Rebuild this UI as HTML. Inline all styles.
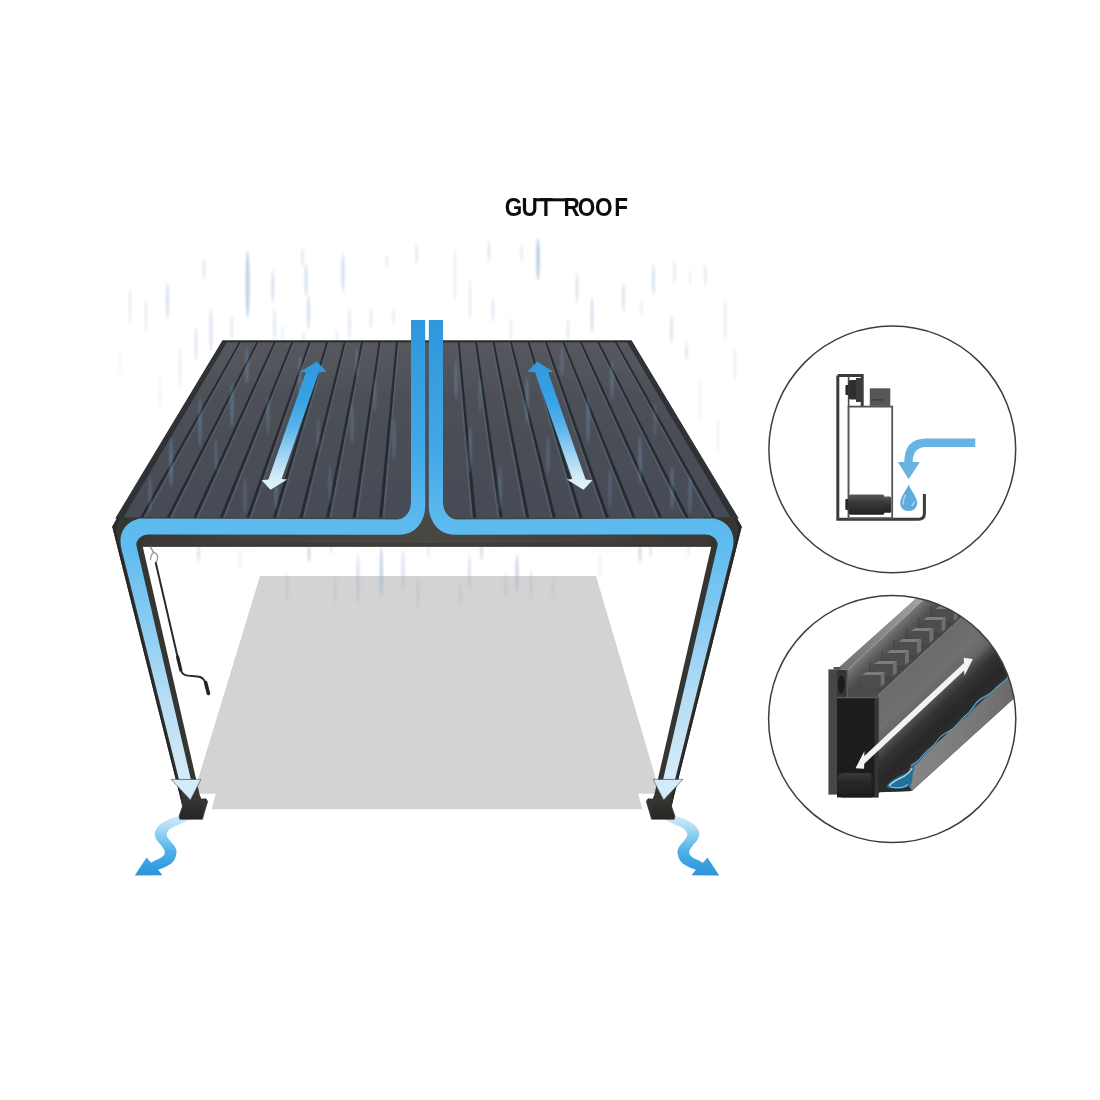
<!DOCTYPE html>
<html lang="en">
<head>
<meta charset="utf-8">
<title>GUTROOF</title>
<style>
html,body{margin:0;padding:0;background:#fff;}
body{width:1100px;height:1100px;overflow:hidden;font-family:"Liberation Sans",Arial,sans-serif;}
svg{display:block;}
</style>
</head>
<body>
<svg width="1100" height="1100" viewBox="0 0 1100 1100">
<defs>
<linearGradient id="gBand" gradientUnits="userSpaceOnUse" x1="0" y1="320" x2="0" y2="800">
 <stop offset="0" stop-color="#2f97dc"/>
 <stop offset="0.25" stop-color="#3fa6e6"/>
 <stop offset="0.41" stop-color="#5bb9ee"/>
 <stop offset="0.48" stop-color="#60bdf0"/>
 <stop offset="0.62" stop-color="#86caf2"/>
 <stop offset="0.78" stop-color="#b4dcf5"/>
 <stop offset="0.96" stop-color="#d6ecf8"/>
 <stop offset="1" stop-color="#dcf0fa"/>
</linearGradient>
<linearGradient id="gRoofArrow" gradientUnits="userSpaceOnUse" x1="0" y1="361" x2="0" y2="490">
 <stop offset="0" stop-color="#3199de"/>
 <stop offset="0.3" stop-color="#38a2e4"/>
 <stop offset="0.5" stop-color="#55b3ea"/>
 <stop offset="0.72" stop-color="#9dd3f3"/>
 <stop offset="0.9" stop-color="#d3ecf9"/>
 <stop offset="1" stop-color="#e6f4fc"/>
</linearGradient>
<linearGradient id="gSquig" gradientUnits="userSpaceOnUse" x1="0" y1="815" x2="0" y2="876">
 <stop offset="0" stop-color="#d2ebf8"/>
 <stop offset="0.18" stop-color="#b3def5"/>
 <stop offset="0.38" stop-color="#7ec8f1"/>
 <stop offset="0.6" stop-color="#4cb0ea"/>
 <stop offset="0.82" stop-color="#379fe0"/>
 <stop offset="1" stop-color="#2f93d6"/>
</linearGradient>
<linearGradient id="gRoof" gradientUnits="userSpaceOnUse" x1="0" y1="341" x2="0" y2="522">
 <stop offset="0" stop-color="#57585e"/>
 <stop offset="0.3" stop-color="#4e5058"/>
 <stop offset="0.65" stop-color="#494d56"/>
 <stop offset="1" stop-color="#464b55"/>
</linearGradient>
<linearGradient id="gFoot" gradientUnits="userSpaceOnUse" x1="0" y1="797" x2="0" y2="819"><stop offset="0" stop-color="#393735"/><stop offset="0.45" stop-color="#302e2d"/><stop offset="1" stop-color="#282726"/></linearGradient>
<linearGradient id="gBeam" gradientUnits="userSpaceOnUse" x1="112" y1="0" x2="742" y2="0"><stop offset="0" stop-color="#373432"/><stop offset="0.2" stop-color="#423f3b"/><stop offset="0.5" stop-color="#4a4642"/><stop offset="0.8" stop-color="#423f3b"/><stop offset="1" stop-color="#373432"/></linearGradient>
<filter id="blur1" filterUnits="userSpaceOnUse" x="0" y="0" width="1100" height="1100"><feGaussianBlur stdDeviation="0.8 1.6"/></filter>
<filter id="soft2" filterUnits="userSpaceOnUse" x="0" y="0" width="1300" height="1100"><feGaussianBlur stdDeviation="0.35"/></filter>
<filter id="soft" filterUnits="userSpaceOnUse" x="0" y="0" width="1100" height="1100"><feGaussianBlur stdDeviation="0.45"/></filter>
<clipPath id="clipRoof"><polygon points="224,341 630,341 737.6,518.4 116.4,518.4"/></clipPath>
<clipPath id="clipC2"><circle cx="892.2" cy="719" r="123.4"/></clipPath>
</defs>
<rect x="0" y="0" width="1100" height="1100" fill="#ffffff"/>
<polygon points="260.0,576.0 596.0,576.0 660.3,793.7 638.2,793.7 642.2,809.3 211.8,809.3 215.8,793.7 193.7,793.7" fill="#d3d3d3"/>
<g filter="url(#blur1)">
<ellipse cx="247.6" cy="284.5" rx="2.0" ry="33.5" fill="#a9c1dc" opacity="0.75"/>
<ellipse cx="204" cy="269.0" rx="1.4" ry="10.0" fill="#a9c1dc" opacity="0.35"/>
<ellipse cx="272.7" cy="286.5" rx="1.5" ry="16.5" fill="#a9c1dc" opacity="0.45"/>
<ellipse cx="302.4" cy="257.5" rx="1.3" ry="9.5" fill="#a9c1dc" opacity="0.4"/>
<ellipse cx="306" cy="280.0" rx="1.5" ry="16.0" fill="#a9c1dc" opacity="0.5"/>
<ellipse cx="308.5" cy="312.5" rx="1.5" ry="17.5" fill="#a9c1dc" opacity="0.5"/>
<ellipse cx="343" cy="272.5" rx="1.6" ry="19.5" fill="#a9c1dc" opacity="0.5"/>
<ellipse cx="211" cy="330.0" rx="1.6" ry="22.0" fill="#a9c1dc" opacity="0.4"/>
<ellipse cx="231.8" cy="328.0" rx="1.4" ry="13.0" fill="#a9c1dc" opacity="0.3"/>
<ellipse cx="274.5" cy="324.5" rx="1.4" ry="16.5" fill="#a9c1dc" opacity="0.35"/>
<ellipse cx="282.7" cy="333.5" rx="1.2" ry="7.5" fill="#a9c1dc" opacity="0.25"/>
<ellipse cx="303.6" cy="339.0" rx="1.2" ry="9.0" fill="#a9c1dc" opacity="0.3"/>
<ellipse cx="349.5" cy="324.5" rx="1.4" ry="16.5" fill="#a9c1dc" opacity="0.35"/>
<ellipse cx="371" cy="318.0" rx="1.3" ry="10.0" fill="#a9c1dc" opacity="0.35"/>
<ellipse cx="393.6" cy="316.5" rx="1.3" ry="8.5" fill="#a9c1dc" opacity="0.3"/>
<ellipse cx="387" cy="261.5" rx="1.2" ry="6.5" fill="#a9c1dc" opacity="0.3"/>
<ellipse cx="337" cy="336.0" rx="1.2" ry="6.0" fill="#a9c1dc" opacity="0.25"/>
<ellipse cx="167.5" cy="300.5" rx="1.6" ry="18.5" fill="#a9c1dc" opacity="0.45"/>
<ellipse cx="196" cy="344.0" rx="1.5" ry="17.0" fill="#a9c1dc" opacity="0.35"/>
<ellipse cx="146" cy="315.0" rx="1.4" ry="17.0" fill="#a9c1dc" opacity="0.25"/>
<ellipse cx="130" cy="306.0" rx="1.4" ry="18.0" fill="#a9c1dc" opacity="0.25"/>
<ellipse cx="416.5" cy="254.0" rx="1.3" ry="11.0" fill="#a9c1dc" opacity="0.35"/>
<ellipse cx="180" cy="367.5" rx="1.4" ry="19.5" fill="#a9c1dc" opacity="0.25"/>
<ellipse cx="160" cy="395.0" rx="1.3" ry="17.0" fill="#a9c1dc" opacity="0.2"/>
<ellipse cx="120" cy="361.0" rx="1.3" ry="13.0" fill="#a9c1dc" opacity="0.15"/>
<ellipse cx="538" cy="259.0" rx="2.0" ry="21.0" fill="#a9c1dc" opacity="0.75"/>
<ellipse cx="489" cy="251.0" rx="1.4" ry="11.0" fill="#a9c1dc" opacity="0.4"/>
<ellipse cx="521.5" cy="252.5" rx="1.3" ry="9.5" fill="#a9c1dc" opacity="0.3"/>
<ellipse cx="577" cy="288.5" rx="1.5" ry="15.5" fill="#a9c1dc" opacity="0.4"/>
<ellipse cx="592" cy="315.5" rx="1.6" ry="18.5" fill="#a9c1dc" opacity="0.45"/>
<ellipse cx="623.5" cy="297.5" rx="1.5" ry="15.5" fill="#a9c1dc" opacity="0.4"/>
<ellipse cx="653.5" cy="279.5" rx="1.5" ry="15.5" fill="#a9c1dc" opacity="0.45"/>
<ellipse cx="674.5" cy="272.0" rx="1.3" ry="11.0" fill="#a9c1dc" opacity="0.35"/>
<ellipse cx="705.4" cy="275.0" rx="1.3" ry="11.0" fill="#a9c1dc" opacity="0.35"/>
<ellipse cx="690" cy="278.0" rx="1.2" ry="8.0" fill="#a9c1dc" opacity="0.25"/>
<ellipse cx="493" cy="309.5" rx="1.4" ry="12.5" fill="#a9c1dc" opacity="0.35"/>
<ellipse cx="511" cy="329.0" rx="1.3" ry="11.0" fill="#a9c1dc" opacity="0.3"/>
<ellipse cx="671.5" cy="329.0" rx="1.5" ry="14.0" fill="#a9c1dc" opacity="0.4"/>
<ellipse cx="686.5" cy="351.5" rx="1.4" ry="9.5" fill="#a9c1dc" opacity="0.35"/>
<ellipse cx="641.5" cy="308.0" rx="1.2" ry="8.0" fill="#a9c1dc" opacity="0.3"/>
<ellipse cx="568" cy="330.0" rx="1.4" ry="12.0" fill="#a9c1dc" opacity="0.3"/>
<ellipse cx="455" cy="275.0" rx="1.4" ry="27.0" fill="#a9c1dc" opacity="0.25"/>
<ellipse cx="470" cy="299.0" rx="1.4" ry="21.0" fill="#a9c1dc" opacity="0.25"/>
<ellipse cx="725" cy="320.0" rx="1.4" ry="22.0" fill="#a9c1dc" opacity="0.25"/>
<ellipse cx="735" cy="365.0" rx="1.4" ry="17.0" fill="#a9c1dc" opacity="0.25"/>
<ellipse cx="700" cy="400.0" rx="1.4" ry="22.0" fill="#a9c1dc" opacity="0.2"/>
<ellipse cx="718" cy="435.0" rx="1.3" ry="17.0" fill="#a9c1dc" opacity="0.2"/>
<ellipse cx="198.6" cy="553.0" rx="1.4" ry="9.0" fill="#9fb1d2" opacity="0.4"/>
<ellipse cx="309" cy="553.0" rx="1.5" ry="9.0" fill="#9fb1d2" opacity="0.5"/>
<ellipse cx="331" cy="548.5" rx="1.2" ry="4.5" fill="#9fb1d2" opacity="0.3"/>
<ellipse cx="381.3" cy="572.0" rx="1.7" ry="25.0" fill="#9fb1d2" opacity="0.55"/>
<ellipse cx="358" cy="579.0" rx="1.6" ry="24.0" fill="#9fb1d2" opacity="0.4"/>
<ellipse cx="403" cy="571.0" rx="1.5" ry="21.0" fill="#9fb1d2" opacity="0.4"/>
<ellipse cx="287" cy="587.0" rx="1.4" ry="13.0" fill="#9fb1d2" opacity="0.3"/>
<ellipse cx="428.5" cy="551.0" rx="1.2" ry="7.0" fill="#9fb1d2" opacity="0.3"/>
<ellipse cx="335" cy="590.0" rx="1.4" ry="13.0" fill="#9fb1d2" opacity="0.3"/>
<ellipse cx="418" cy="594.0" rx="1.4" ry="17.0" fill="#9fb1d2" opacity="0.3"/>
<ellipse cx="481.5" cy="552.0" rx="1.4" ry="8.0" fill="#9fb1d2" opacity="0.45"/>
<ellipse cx="469.5" cy="572.0" rx="1.5" ry="17.0" fill="#9fb1d2" opacity="0.35"/>
<ellipse cx="517" cy="573.5" rx="1.7" ry="18.5" fill="#9fb1d2" opacity="0.5"/>
<ellipse cx="505.5" cy="584.5" rx="1.4" ry="12.5" fill="#9fb1d2" opacity="0.3"/>
<ellipse cx="531" cy="584.5" rx="1.4" ry="15.5" fill="#9fb1d2" opacity="0.3"/>
<ellipse cx="460.5" cy="594.0" rx="1.3" ry="12.0" fill="#9fb1d2" opacity="0.3"/>
<ellipse cx="553" cy="588.5" rx="1.3" ry="11.5" fill="#9fb1d2" opacity="0.25"/>
<ellipse cx="640" cy="553.0" rx="1.5" ry="9.0" fill="#9fb1d2" opacity="0.45"/>
<ellipse cx="650.5" cy="550.5" rx="1.3" ry="6.5" fill="#9fb1d2" opacity="0.35"/>
<ellipse cx="688.7" cy="549.5" rx="1.2" ry="5.5" fill="#9fb1d2" opacity="0.3"/>
<ellipse cx="240" cy="560.0" rx="1.3" ry="10.0" fill="#9fb1d2" opacity="0.2"/>
<ellipse cx="600" cy="565.5" rx="1.3" ry="11.5" fill="#9fb1d2" opacity="0.2"/>
</g>
<g filter="url(#soft)">
<polygon points="222.5,340.2 631.5,340.2 738.8,518.4 115.2,518.4" fill="#2a2b2f"/>
<polygon points="224.0,341.0 630.0,341.0 737.6,518.4 116.4,518.4" fill="url(#gRoof)"/>
<g clip-path="url(#clipRoof)">
<polygon points="241.9,340.0 243.4,340.0 141.0,526.0 138.4,526.0" fill="#5b6873" opacity="0.55"/>
<polygon points="240.1,340.0 242.0,340.0 138.6,526.0 135.3,526.0" fill="#272a32"/>
<polygon points="259.2,340.0 260.7,340.0 168.0,526.0 165.4,526.0" fill="#5b6873" opacity="0.55"/>
<polygon points="257.5,340.0 259.4,340.0 165.6,526.0 162.3,526.0" fill="#272a32"/>
<polygon points="276.6,340.0 278.1,340.0 195.0,526.0 192.4,526.0" fill="#5b6873" opacity="0.55"/>
<polygon points="274.8,340.0 276.7,340.0 192.6,526.0 189.3,526.0" fill="#272a32"/>
<polygon points="293.9,340.0 295.4,340.0 222.0,526.0 219.4,526.0" fill="#5b6873" opacity="0.55"/>
<polygon points="292.2,340.0 294.1,340.0 219.6,526.0 216.3,526.0" fill="#272a32"/>
<polygon points="311.3,340.0 312.8,340.0 249.0,526.0 246.4,526.0" fill="#5b6873" opacity="0.55"/>
<polygon points="309.5,340.0 311.4,340.0 246.6,526.0 243.3,526.0" fill="#272a32"/>
<polygon points="328.6,340.0 330.1,340.0 276.0,526.0 273.4,526.0" fill="#5b6873" opacity="0.55"/>
<polygon points="326.9,340.0 328.8,340.0 273.6,526.0 270.4,526.0" fill="#272a32"/>
<polygon points="345.9,340.0 347.4,340.0 303.0,526.0 300.4,526.0" fill="#5b6873" opacity="0.55"/>
<polygon points="344.2,340.0 346.1,340.0 300.7,526.0 297.4,526.0" fill="#272a32"/>
<polygon points="363.3,340.0 364.8,340.0 330.0,526.0 327.4,526.0" fill="#5b6873" opacity="0.55"/>
<polygon points="361.5,340.0 363.4,340.0 327.7,526.0 324.4,526.0" fill="#272a32"/>
<polygon points="380.6,340.0 382.1,340.0 357.0,526.0 354.4,526.0" fill="#5b6873" opacity="0.55"/>
<polygon points="378.9,340.0 380.8,340.0 354.7,526.0 351.4,526.0" fill="#272a32"/>
<polygon points="398.0,340.0 399.5,340.0 384.0,526.0 381.4,526.0" fill="#5b6873" opacity="0.55"/>
<polygon points="396.2,340.0 398.1,340.0 381.7,526.0 378.4,526.0" fill="#272a32"/>
<polygon points="457.6,340.0 456.1,340.0 471.3,526.0 473.9,526.0" fill="#5b6873" opacity="0.55"/>
<polygon points="457.5,340.0 459.4,340.0 477.0,526.0 473.7,526.0" fill="#272a32"/>
<polygon points="475.0,340.0 473.5,340.0 498.4,526.0 501.0,526.0" fill="#5b6873" opacity="0.55"/>
<polygon points="474.8,340.0 476.7,340.0 504.0,526.0 500.7,526.0" fill="#272a32"/>
<polygon points="492.3,340.0 490.8,340.0 525.4,526.0 528.0,526.0" fill="#5b6873" opacity="0.55"/>
<polygon points="492.2,340.0 494.1,340.0 531.0,526.0 527.7,526.0" fill="#272a32"/>
<polygon points="509.7,340.0 508.2,340.0 552.4,526.0 555.0,526.0" fill="#5b6873" opacity="0.55"/>
<polygon points="509.5,340.0 511.4,340.0 558.0,526.0 554.7,526.0" fill="#272a32"/>
<polygon points="527.0,340.0 525.5,340.0 579.4,526.0 582.0,526.0" fill="#5b6873" opacity="0.55"/>
<polygon points="526.9,340.0 528.8,340.0 585.0,526.0 581.7,526.0" fill="#272a32"/>
<polygon points="544.3,340.0 542.8,340.0 606.4,526.0 609.0,526.0" fill="#5b6873" opacity="0.55"/>
<polygon points="544.2,340.0 546.1,340.0 612.0,526.0 608.7,526.0" fill="#272a32"/>
<polygon points="561.7,340.0 560.2,340.0 633.4,526.0 636.0,526.0" fill="#5b6873" opacity="0.55"/>
<polygon points="561.5,340.0 563.4,340.0 639.0,526.0 635.7,526.0" fill="#272a32"/>
<polygon points="579.0,340.0 577.5,340.0 660.4,526.0 663.0,526.0" fill="#5b6873" opacity="0.55"/>
<polygon points="578.9,340.0 580.8,340.0 666.1,526.0 662.8,526.0" fill="#272a32"/>
<polygon points="596.4,340.0 594.9,340.0 687.4,526.0 690.0,526.0" fill="#5b6873" opacity="0.55"/>
<polygon points="596.2,340.0 598.1,340.0 693.1,526.0 689.8,526.0" fill="#272a32"/>
<polygon points="613.7,340.0 612.2,340.0 714.4,526.0 717.0,526.0" fill="#5b6873" opacity="0.55"/>
<polygon points="613.6,340.0 615.5,340.0 720.1,526.0 716.8,526.0" fill="#272a32"/>
<polygon points="224.0,341.0 227.6,341.0 119.5,524.0 113.0,524.0" fill="#2f3136"/>
<polygon points="630.0,341.0 626.4,341.0 734.5,524.0 741.0,524.0" fill="#2f3136"/>
<rect x="222" y="340" width="410" height="2.4" fill="#2b2c31"/>
</g>
</g>
<g filter="url(#blur1)" clip-path="url(#clipRoof)">
<ellipse cx="232" cy="405.0" rx="1.6" ry="22.0" fill="#86bde8" opacity="0.3"/>
<ellipse cx="247" cy="366.0" rx="1.5" ry="18.0" fill="#86bde8" opacity="0.28"/>
<ellipse cx="171" cy="462.5" rx="1.7" ry="24.5" fill="#86bde8" opacity="0.32"/>
<ellipse cx="200" cy="422.5" rx="1.6" ry="24.5" fill="#86bde8" opacity="0.28"/>
<ellipse cx="276" cy="486.5" rx="1.6" ry="23.5" fill="#86bde8" opacity="0.28"/>
<ellipse cx="300" cy="376.0" rx="1.5" ry="20.0" fill="#86bde8" opacity="0.3"/>
<ellipse cx="357" cy="362.0" rx="1.4" ry="14.0" fill="#86bde8" opacity="0.25"/>
<ellipse cx="352" cy="423.5" rx="1.5" ry="20.5" fill="#86bde8" opacity="0.25"/>
<ellipse cx="394" cy="439.0" rx="1.5" ry="21.0" fill="#86bde8" opacity="0.26"/>
<ellipse cx="330" cy="485.0" rx="1.5" ry="19.0" fill="#86bde8" opacity="0.22"/>
<ellipse cx="268" cy="415.0" rx="1.5" ry="19.0" fill="#86bde8" opacity="0.25"/>
<ellipse cx="456" cy="380.0" rx="1.5" ry="20.0" fill="#86bde8" opacity="0.28"/>
<ellipse cx="470" cy="450.0" rx="1.6" ry="24.0" fill="#86bde8" opacity="0.28"/>
<ellipse cx="500" cy="488.0" rx="1.6" ry="22.0" fill="#86bde8" opacity="0.26"/>
<ellipse cx="527" cy="400.0" rx="1.6" ry="24.0" fill="#86bde8" opacity="0.28"/>
<ellipse cx="548" cy="455.0" rx="1.5" ry="19.0" fill="#86bde8" opacity="0.25"/>
<ellipse cx="588" cy="420.0" rx="1.6" ry="24.0" fill="#86bde8" opacity="0.28"/>
<ellipse cx="612" cy="380.0" rx="1.5" ry="20.0" fill="#86bde8" opacity="0.26"/>
<ellipse cx="640" cy="460.0" rx="1.6" ry="24.0" fill="#86bde8" opacity="0.3"/>
<ellipse cx="672" cy="488.0" rx="1.6" ry="22.0" fill="#86bde8" opacity="0.28"/>
<ellipse cx="690" cy="495.0" rx="1.5" ry="19.0" fill="#86bde8" opacity="0.26"/>
<ellipse cx="562" cy="361.0" rx="1.4" ry="15.0" fill="#86bde8" opacity="0.26"/>
<ellipse cx="216" cy="455.0" rx="1.5" ry="17.0" fill="#86bde8" opacity="0.22"/>
<ellipse cx="318" cy="435.0" rx="1.5" ry="17.0" fill="#86bde8" opacity="0.2"/>
<ellipse cx="375" cy="395.0" rx="1.4" ry="17.0" fill="#86bde8" opacity="0.2"/>
<ellipse cx="150" cy="494.0" rx="1.5" ry="18.0" fill="#86bde8" opacity="0.25"/>
<ellipse cx="245" cy="496.0" rx="1.5" ry="18.0" fill="#86bde8" opacity="0.22"/>
<ellipse cx="610" cy="487.5" rx="1.5" ry="19.5" fill="#86bde8" opacity="0.22"/>
<ellipse cx="480" cy="395.0" rx="1.4" ry="17.0" fill="#86bde8" opacity="0.2"/>
<ellipse cx="655" cy="420.0" rx="1.4" ry="17.0" fill="#86bde8" opacity="0.2"/>
</g>
<g filter="url(#soft)">
<polygon points="117.6,517.6 736.4,517.6 741.7,526.8 711.2,546.8 142.8,546.8 112.3,526.8" fill="url(#gBeam)"/>
<polygon points="140.0,543.0 714.0,543.0 711.2,546.9 142.8,546.9" fill="#3a3734" opacity="0.6"/>
<polygon points="112.3,526.8 117.6,517.6 150.0,517.6 142.8,546.8 200.9,800.0 182.6,806.5" fill="#363431"/>
<polygon points="741.7,526.8 736.4,517.6 704.0,517.6 711.2,546.8 653.1,800.0 671.4,806.5" fill="#363431"/>
<polygon points="112.3,526.8 114.6,526.8 184.4,806.5 182.6,806.5" fill="#262524"/>
<polygon points="741.7,526.8 739.4,526.8 669.6,806.5 671.4,806.5" fill="#262524"/>
<polygon points="112.3,526.8 117.6,517.6 120.4,518.6 115.6,527.6" fill="#2c2b2a"/>
<polygon points="741.7,526.8 736.4,517.6 733.6,518.6 738.4,527.6" fill="#2c2b2a"/>
</g>
<g fill="none" stroke-linecap="round" stroke-linejoin="round" filter="url(#soft)">
<path d="M150.1,546.9 L153.6,552.2" stroke="#8a8683" stroke-width="1.3"/>
<path d="M153.6,552.2 Q150.6,555 150.5,559.4" stroke="#9a9693" stroke-width="1.2"/>
<path d="M153.6,552.2 Q158.4,554.2 157.5,558.6 Q157,561 155.7,562.8" stroke="#9a9693" stroke-width="1.3"/>
<path d="M155.8,563 L177.6,657" stroke="#2b2a2a" stroke-width="2.0"/>
<path d="M177.6,657 L180.8,670" stroke="#262626" stroke-width="3.2"/>
<path d="M180.8,670 q1.5,5.2 7,5.6 l9.6,0.9 q6,0.5 7.6,5.5" stroke="#2a2a2a" stroke-width="1.9"/>
<path d="M205.6,682.5 L208.4,693.4" stroke="#222222" stroke-width="3.6"/>
</g>
<path d="M411,320 L425.2,320 L425.2,506.5 A24.5,28.2 0 0 1 400.7,534.7 L148.6,534.5 C141.5,534.5 135.3,540.5 136.5,545.7 L190.9,779.5 L179.0,779.5 L121.5,549 C116.6,529 131,518.5 142.8,518.5 L397.5,519.4 A13.5,17.4 0 0 0 411,502 Z" fill="url(#gBand)" filter="url(#soft)"/>
<g transform="translate(854.0,0) scale(-1,1)"><path d="M411,320 L425.2,320 L425.2,506.5 A24.5,28.2 0 0 1 400.7,534.7 L148.6,534.5 C141.5,534.5 135.3,540.5 136.5,545.7 L190.9,779.5 L179.0,779.5 L121.5,549 C116.6,529 131,518.5 142.8,518.5 L397.5,519.4 A13.5,17.4 0 0 0 411,502 Z" fill="url(#gBand)" filter="url(#soft)"/></g>
<polygon points="316.8,361.6 326.4,371.6 318.9,372.3 281.6,479.0 287.1,479.6 270.5,489.8 261.6,480.2 268.4,479.6 305.9,372.3 300.5,371.8" fill="url(#gRoofArrow)" filter="url(#soft)"/>
<polygon points="537.2,361.6 527.6,371.6 535.1,372.3 572.4,479.0 566.9,479.6 583.5,489.8 592.4,480.2 585.6,479.6 548.1,372.3 553.5,371.8" fill="url(#gRoofArrow)" filter="url(#soft)"/>
<path d="M181,815.6 C178.9,816.2 172.1,818.0 168.6,819.5 C165.1,821.0 162.1,822.8 159.9,824.6 C157.7,826.4 156.3,828.7 155.5,830.5 C154.7,832.3 154.6,833.8 154.8,835.5 C155.1,837.2 155.9,838.9 157.0,840.6 C158.1,842.3 160.2,844.1 161.4,845.7 C162.6,847.3 163.8,848.8 164.3,850.1 C164.8,851.4 165.1,852.5 164.6,853.7 C164.1,854.9 162.9,856.3 161.4,857.4 C159.9,858.5 157.2,859.4 155.5,860.3 C153.8,861.2 151.9,862.4 151.2,862.8 L146.5,857.4 L134.8,875.5 L162.5,875.3 L158.1,869.7 C159.4,869.2 163.3,868.0 165.7,866.8 C168.1,865.6 170.6,864.3 172.3,862.5 C174.0,860.7 175.2,858.0 175.9,855.9 C176.6,853.8 176.7,851.9 176.3,850.1 C175.9,848.3 174.8,846.7 173.7,845.0 C172.5,843.3 170.6,841.5 169.4,839.9 C168.2,838.3 167.1,837.0 166.8,835.5 C166.6,834.0 167.0,832.5 167.9,831.2 C168.8,829.9 170.2,828.7 172.3,827.5 C174.4,826.3 177.4,825.2 180.3,823.9 C183.2,822.6 188.4,820.3 190.0,819.6 Z" fill="url(#gSquig)" filter="url(#soft)"/>
<g transform="translate(854.0,0) scale(-1,1)"><path d="M181,815.6 C178.9,816.2 172.1,818.0 168.6,819.5 C165.1,821.0 162.1,822.8 159.9,824.6 C157.7,826.4 156.3,828.7 155.5,830.5 C154.7,832.3 154.6,833.8 154.8,835.5 C155.1,837.2 155.9,838.9 157.0,840.6 C158.1,842.3 160.2,844.1 161.4,845.7 C162.6,847.3 163.8,848.8 164.3,850.1 C164.8,851.4 165.1,852.5 164.6,853.7 C164.1,854.9 162.9,856.3 161.4,857.4 C159.9,858.5 157.2,859.4 155.5,860.3 C153.8,861.2 151.9,862.4 151.2,862.8 L146.5,857.4 L134.8,875.5 L162.5,875.3 L158.1,869.7 C159.4,869.2 163.3,868.0 165.7,866.8 C168.1,865.6 170.6,864.3 172.3,862.5 C174.0,860.7 175.2,858.0 175.9,855.9 C176.6,853.8 176.7,851.9 176.3,850.1 C175.9,848.3 174.8,846.7 173.7,845.0 C172.5,843.3 170.6,841.5 169.4,839.9 C168.2,838.3 167.1,837.0 166.8,835.5 C166.6,834.0 167.0,832.5 167.9,831.2 C168.8,829.9 170.2,828.7 172.3,827.5 C174.4,826.3 177.4,825.2 180.3,823.9 C183.2,822.6 188.4,820.3 190.0,819.6 Z" fill="url(#gSquig)" filter="url(#soft)"/></g>
<polygon points="180.8,798.0 182.6,806.0 179.1,815.9 179.8,819.3 202.4,819.3 207.6,801.4 206.0,798.7 200.7,799.1 200.2,796.5" fill="url(#gFoot)" stroke="#2f2d2c" stroke-width="0.6" stroke-linejoin="round" filter="url(#soft)"/>
<polygon points="673.2,798.0 671.4,806.0 674.9,815.9 674.2,819.3 651.6,819.3 646.4,801.4 648.0,798.7 653.3,799.1 653.8,796.5" fill="url(#gFoot)" stroke="#2f2d2c" stroke-width="0.6" stroke-linejoin="round" filter="url(#soft)"/>
<polygon points="200.7,799.3 206.0,798.9 207.4,801.4 203.2,816.0" fill="#383635" filter="url(#soft)"/>
<polygon points="653.3,799.3 648.0,798.9 646.6,801.4 650.8,816.0" fill="#383635" filter="url(#soft)"/>
<polygon points="171.1,779.4 200.9,779.4 190.4,800.0" fill="#d3ebf8" stroke="#4a4a48" stroke-width="0.6" filter="url(#soft)"/>
<polygon points="682.9,779.4 653.1,779.4 663.6,800.0" fill="#d3ebf8" stroke="#4a4a48" stroke-width="0.6" filter="url(#soft)"/>
<g transform="translate(505,0) scale(0.9,1)" filter="url(#soft2)">
<text x="-0.33 18.44 37.78 64.89 80.78 100.00 121.33" y="216.1" font-family="'Liberation Sans', Arial, sans-serif" font-weight="700" font-size="25" fill="#0a0a0a" id="logo">GUTROOF</text>
</g>
<rect x="535.2" y="198.3" width="31.5" height="3.0" fill="#0a0a0a" filter="url(#soft2)"/>
<g filter="url(#soft)">
<circle cx="892.3" cy="449.4" r="123.4" fill="#ffffff" stroke="#3d3d3d" stroke-width="1.5"/>
<path d="M837.8,375.6 H862.2 V406 M837.8,375.6 V519.2 H918.5 Q924.4,519.2 924.4,513.5 V494" fill="none" stroke="#3a3a3a" stroke-width="3"/>
<path d="M848.6,376 V518" fill="none" stroke="#4a4a4a" stroke-width="1.6"/>
<rect x="848.6" y="406.6" width="43.6" height="111.5" fill="#ffffff" stroke="#555555" stroke-width="1.8"/>
<rect x="845.4" y="385" width="3.4" height="10" rx="1" fill="#2b2b2b"/>
<rect x="848.6" y="380" width="12.6" height="19.5" rx="2" fill="#2f2f2f"/>
<rect x="856" y="378" width="5.2" height="24" fill="#3a3a3a"/>
<rect x="869.8" y="388.3" width="20.5" height="17.6" fill="#565656"/>
<rect x="871" y="399.3" width="12" height="1.3" fill="#3c3c3c"/>
<linearGradient id="gRoll" x1="0" y1="0" x2="0" y2="1"><stop offset="0" stop-color="#5a5a5a"/><stop offset="0.35" stop-color="#3b3b3b"/><stop offset="1" stop-color="#222"/></linearGradient>
<rect x="845.3" y="499" width="3.4" height="11" rx="1" fill="#2b2b2b"/>
<rect x="848.6" y="494.4" width="36" height="20.4" rx="2.5" fill="url(#gRoll)"/>
<rect x="884" y="496.4" width="7.2" height="16.4" rx="1.5" fill="url(#gRoll)"/>
<path d="M975.3,442.7 H926 Q908.4,442.7 908.4,463" fill="none" stroke="#69b3e3" stroke-width="8.4"/>
<polygon points="897.8,462 919.8,462 908.6,479.2" fill="#69b3e3"/>
<path d="M908.6,484.6 C911,491 917.2,497 917.2,503 C917.2,508 913.4,511 908.6,511 C903.8,511 900.2,508 900.2,503 C900.2,497 906.2,491 908.6,484.6 Z" fill="#5fabdd"/>
<path d="M905.4,495 C903.6,498.5 902.8,501 903.4,504" fill="none" stroke="#a9d3ef" stroke-width="1.6" stroke-linecap="round"/>
<path d="M912,505.5 q1.8,-1.2 2.2,-3.6" fill="none" stroke="#c4e1f4" stroke-width="1.2" stroke-linecap="round"/>
</g>
<g filter="url(#soft)">
<circle cx="892.2" cy="719" r="123.6" fill="#ffffff"/>
<g clip-path="url(#clipC2)">
<linearGradient id="gFace" gradientUnits="userSpaceOnUse" x1="874.7" y1="698" x2="938.3" y2="766.3"><stop offset="0" stop-color="#6b6b6b"/><stop offset="0.28" stop-color="#6f6f6f"/><stop offset="0.40" stop-color="#666666"/><stop offset="0.47" stop-color="#484848"/><stop offset="0.55" stop-color="#323232"/><stop offset="0.70" stop-color="#282828"/><stop offset="0.80" stop-color="#2e2e2e"/><stop offset="1" stop-color="#363636"/></linearGradient>
<linearGradient id="gLip" gradientUnits="userSpaceOnUse" x1="911" y1="0" x2="1015" y2="0"><stop offset="0" stop-color="#868686"/><stop offset="0.6" stop-color="#787878"/><stop offset="1" stop-color="#6a6a6a"/></linearGradient>
<linearGradient id="gWall" gradientUnits="userSpaceOnUse" x1="848" y1="669.4" x2="858" y2="680"><stop offset="0" stop-color="#7a7a7a"/><stop offset="0.5" stop-color="#626262"/><stop offset="1" stop-color="#505050"/></linearGradient>
<polygon points="848.0,669.4 848.0,694.2 874.7,698.0 1049.7,534.9 1023.0,507.5" fill="url(#gWall)"/>
<polygon points="848.0,694.2 874.7,698.0 1049.7,534.9 1023.0,527.1" fill="#484848"/>
<rect x="869.0" y="662.4" width="1.6" height="19" fill="#474747"/>
<rect x="881.2" y="651.2" width="1.6" height="19" fill="#474747"/>
<rect x="893.4" y="640.0" width="1.6" height="19" fill="#474747"/>
<rect x="905.6" y="628.8" width="1.6" height="19" fill="#474747"/>
<rect x="917.8" y="617.6" width="1.6" height="19" fill="#474747"/>
<rect x="930.0" y="606.4" width="1.6" height="19" fill="#474747"/>
<rect x="942.2" y="595.2" width="1.6" height="19" fill="#474747"/>
<rect x="954.4" y="584.0" width="1.6" height="19" fill="#474747"/>
<linearGradient id="gRail" gradientUnits="userSpaceOnUse" x1="840" y1="669" x2="930" y2="588"><stop offset="0" stop-color="#727272"/><stop offset="0.5" stop-color="#8a8a8a"/><stop offset="1" stop-color="#a8a8a8"/></linearGradient>
<polygon points="836.5,669.4 848.0,669.4 1023.0,507.5 1011.5,512.8" fill="url(#gRail)"/>
<polygon points="874.7,698.0 1049.7,534.9 1050.0,690.0 1041.8,673.2 911.8,790.9 880.0,792.0 874.7,797.3" fill="url(#gFace)"/>
<polygon points="874.7,698.0 1049.7,534.9 1049.7,536.2 874.7,699.3" fill="#7a7a7a" opacity="0.7"/>
<polygon points="958.9,600.3 977.7,600.3 977.7,603.7 958.9,603.7" fill="#454545"/>
<polygon points="978.0,587.0 982.2,584.0 982.2,595.9 978.0,599.1" fill="#6f6f6f"/>
<polygon points="959.6,587.0 963.8,584.0 982.2,584.0 978.0,587.0" fill="#7d7d7d"/>
<polygon points="959.6,587.0 978.0,587.0 978.0,599.1 959.6,599.1" fill="#4d4d4d"/>
<polygon points="946.7,611.3 965.5,611.3 965.5,614.7 946.7,614.7" fill="#454545"/>
<polygon points="965.8,598.0 970.0,595.0 970.0,606.9 965.8,610.1" fill="#6f6f6f"/>
<polygon points="947.4,598.0 951.6,595.0 970.0,595.0 965.8,598.0" fill="#7d7d7d"/>
<polygon points="947.4,598.0 965.8,598.0 965.8,610.1 947.4,610.1" fill="#4d4d4d"/>
<polygon points="934.5,622.3 953.3,622.3 953.3,625.7 934.5,625.7" fill="#454545"/>
<polygon points="953.6,609.0 957.8,606.0 957.8,617.9 953.6,621.1" fill="#6f6f6f"/>
<polygon points="935.2,609.0 939.4,606.0 957.8,606.0 953.6,609.0" fill="#7d7d7d"/>
<polygon points="935.2,609.0 953.6,609.0 953.6,621.1 935.2,621.1" fill="#4d4d4d"/>
<polygon points="922.3,633.3 941.1,633.3 941.1,636.7 922.3,636.7" fill="#454545"/>
<polygon points="941.4,620.0 945.6,617.0 945.6,628.9 941.4,632.1" fill="#6f6f6f"/>
<polygon points="923.0,620.0 927.2,617.0 945.6,617.0 941.4,620.0" fill="#7d7d7d"/>
<polygon points="923.0,620.0 941.4,620.0 941.4,632.1 923.0,632.1" fill="#4d4d4d"/>
<polygon points="910.1,644.3 928.9,644.3 928.9,647.7 910.1,647.7" fill="#454545"/>
<polygon points="929.2,631.0 933.4,628.0 933.4,639.9 929.2,643.1" fill="#6f6f6f"/>
<polygon points="910.8,631.0 915.0,628.0 933.4,628.0 929.2,631.0" fill="#7d7d7d"/>
<polygon points="910.8,631.0 929.2,631.0 929.2,643.1 910.8,643.1" fill="#4d4d4d"/>
<polygon points="897.9,655.3 916.7,655.3 916.7,658.7 897.9,658.7" fill="#454545"/>
<polygon points="917.0,642.0 921.2,639.0 921.2,650.9 917.0,654.1" fill="#6f6f6f"/>
<polygon points="898.6,642.0 902.8,639.0 921.2,639.0 917.0,642.0" fill="#7d7d7d"/>
<polygon points="898.6,642.0 917.0,642.0 917.0,654.1 898.6,654.1" fill="#4d4d4d"/>
<polygon points="885.7,666.3 904.5,666.3 904.5,669.7 885.7,669.7" fill="#454545"/>
<polygon points="904.8,653.0 909.0,650.0 909.0,661.9 904.8,665.1" fill="#6f6f6f"/>
<polygon points="886.4,653.0 890.6,650.0 909.0,650.0 904.8,653.0" fill="#7d7d7d"/>
<polygon points="886.4,653.0 904.8,653.0 904.8,665.1 886.4,665.1" fill="#4d4d4d"/>
<polygon points="873.5,677.3 892.3,677.3 892.3,680.7 873.5,680.7" fill="#454545"/>
<polygon points="892.6,664.0 896.8,661.0 896.8,672.9 892.6,676.1" fill="#6f6f6f"/>
<polygon points="874.2,664.0 878.4,661.0 896.8,661.0 892.6,664.0" fill="#7d7d7d"/>
<polygon points="874.2,664.0 892.6,664.0 892.6,676.1 874.2,676.1" fill="#4d4d4d"/>
<polygon points="861.3,688.3 880.1,688.3 880.1,691.7 861.3,691.7" fill="#454545"/>
<polygon points="880.4,675.0 884.6,672.0 884.6,683.9 880.4,687.1" fill="#6f6f6f"/>
<polygon points="862.0,675.0 866.2,672.0 884.6,672.0 880.4,675.0" fill="#7d7d7d"/>
<polygon points="862.0,675.0 880.4,675.0 880.4,687.1 862.0,687.1" fill="#4d4d4d"/>
<polygon points="911.8,766.4 1041.8,645.2 1041.8,673.2 911.8,790.9" fill="url(#gLip)"/>
<polygon points="909.6,768.4 911.9,766.3 911.9,790.9 909.6,791.1" fill="#808080"/>
<polygon points="878.0,788.5 910.0,787.6 911.8,790.9 880.0,792.2" fill="#2c2c2c"/>
<polygon points="911.0,764.5 913.5,763.1 915.9,761.6 918.0,759.9 919.9,757.9 921.6,755.9 923.4,753.8 925.2,751.8 927.1,750.0 929.1,748.3 931.2,746.6 933.1,744.8 934.9,742.8 936.5,740.7 938.1,738.6 939.9,736.5 941.9,734.7 944.1,733.1 946.6,731.7 949.1,730.2 951.5,728.7 953.8,727.0 955.8,725.0 957.6,722.9 959.5,720.7 961.3,718.6 963.3,716.6 965.4,714.7 967.5,712.9 969.4,710.9 971.2,708.7 972.8,706.5 974.4,704.2 976.0,702.0 977.8,700.0 979.9,698.4 982.2,696.9 984.7,695.7 987.1,694.4 989.4,692.9 991.5,691.3 993.5,689.5 995.4,687.6 997.3,685.8 999.4,684.0 1001.6,682.3 1003.7,680.6 1005.8,678.7 1007.6,676.6 1009.2,674.3 1010.7,671.8 1012.2,669.4 1013.9,667.0 1015.9,665.0 1018.1,663.2 1020.4,661.6 1020.4,664.4 1018.1,665.8 1015.9,667.4 1013.9,669.2 1012.2,671.3 1010.7,673.6 1009.2,675.9 1007.6,678.0 1005.8,680.0 1003.7,681.8 1001.6,683.5 999.4,685.2 997.3,687.1 995.4,689.0 993.5,691.0 991.5,693.0 989.4,694.9 987.1,696.6 984.7,698.1 982.2,699.6 979.9,701.2 977.8,703.0 976.0,705.1 974.4,707.4 972.8,709.7 971.2,712.0 969.4,714.0 967.5,715.9 965.4,717.6 963.3,719.3 961.3,721.1 959.5,723.0 957.6,724.9 955.8,726.9 953.8,728.6 951.5,730.2 949.1,731.6 946.6,732.9 944.1,734.3 941.9,735.9 939.9,737.8 938.1,740.0 936.5,742.3 934.9,744.5 933.1,746.7 931.2,748.8 929.1,750.7 927.1,752.6 925.2,754.6 923.4,756.7 921.6,758.9 919.9,761.1 918.0,763.1 915.9,764.8 913.5,766.3 911.0,767.6" fill="#1f6b98"/>
<polyline points="911.0,765.5 913.5,764.1 915.9,762.6 918.0,760.9 919.9,758.9 921.6,756.9 923.4,754.8 925.2,752.8 927.1,751.0 929.1,749.3 931.2,747.6 933.1,745.8 934.9,743.8 936.5,741.7 938.1,739.6 939.9,737.5 941.9,735.7 944.1,734.1 946.6,732.7 949.1,731.2 951.5,729.7 953.8,728.0 955.8,726.0 957.6,723.9 959.5,721.7 961.3,719.6 963.3,717.6 965.4,715.7 967.5,713.9 969.4,711.9 971.2,709.7 972.8,707.5 974.4,705.2 976.0,703.0 977.8,701.0 979.9,699.4 982.2,697.9 984.7,696.7 987.1,695.4 989.4,693.9 991.5,692.3 993.5,690.5 995.4,688.6 997.3,686.8 999.4,685.0 1001.6,683.3 1003.7,681.6 1005.8,679.7 1007.6,677.6 1009.2,675.3 1010.7,672.8 1012.2,670.4 1013.9,668.0 1015.9,666.0 1018.1,664.2 1020.4,662.6" fill="none" stroke="#9dd2ea" stroke-width="0.8" opacity="0.85"/>
<path d="M886.6,786.6 C890,779.5 899,776.5 905,773.5 C909,771.5 911,768.5 913.2,765.2 L914.6,767.6 C913,771 912.6,775 912.2,780 C911.6,786.6 906,788.8 898,788.8 C892,788.8 888,788.2 886.6,786.6 Z" fill="#216f9c"/>
<path d="M889.5,785.4 C893,781 899,778.5 904.5,776 C908,774 910.2,771.5 912,768.5" fill="none" stroke="#b5deef" stroke-width="1.4" stroke-linecap="round"/>
<path d="M890.5,786.8 C896,788.2 903,788 907.5,784.6" fill="none" stroke="#7fc3e2" stroke-width="1.1" stroke-linecap="round"/>
<rect x="837" y="688" width="41" height="12" fill="#4c4c4c"/>
<rect x="828.4" y="669.4" width="8.8" height="125.2" fill="#474747"/>
<rect x="833.5" y="667" width="7" height="2.6" fill="#555555"/>
<rect x="837" y="669.6" width="11" height="28.6" fill="#343434"/>
<ellipse cx="841.4" cy="684.5" rx="3.6" ry="9" fill="#1d1d1d"/>
<rect x="846.4" y="669.6" width="1.8" height="28" fill="#5c5c5c"/>
<rect x="837" y="697.4" width="41.2" height="100" fill="#1b1b1b"/>
<rect x="874.4" y="697.6" width="4.2" height="99.8" fill="#343434"/>
<rect x="837" y="696.8" width="41" height="1.5" fill="#5a5a5a"/>
<linearGradient id="gRoll2" x1="0" y1="0" x2="0" y2="1"><stop offset="0" stop-color="#3a3a3a"/><stop offset="0.3" stop-color="#2a2a2a"/><stop offset="1" stop-color="#1c1c1c"/></linearGradient>
<path d="M837.4,780 Q837.4,773 844,773 H868 Q872.6,773 872.6,778 V797.4 H842 Q837.4,797.4 837.4,792 Z" fill="url(#gRoll2)"/>
<rect x="871" y="775" width="3.4" height="10" rx="1" fill="#202020"/>
<polygon points="963.8,657.8 972.9,658.9 964.4,675.8 964.1,670.6 864.3,763.7 864.0,768.7 855.5,768.2 864.5,751.0 864.3,756.0 964.0,663.0" fill="#f2f2f2"/>
</g>
<circle cx="892.2" cy="719" r="123.6" fill="none" stroke="#3d3d3d" stroke-width="1.5"/>
</g>
</svg>
</body>
</html>
